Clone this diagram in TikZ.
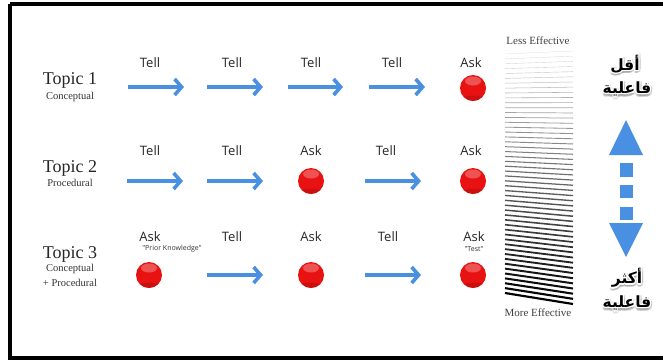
\documentclass[tikz,border=0pt]{standalone}
\usepackage{fontspec}
\setmainfont{Liberation Serif}
\newfontfamily\labfont{Open Sans}
\newfontfamily\arabicfont[Script=Arabic]{DejaVu Sans}
\TeXXeTstate=1
\usetikzlibrary{arrows.meta,shadings,calc}
\definecolor{arrblue}{RGB}{74,144,226}
\definecolor{ballred}{RGB}{232,18,18}
\tikzset{
  topic/.style={font=\fontsize{18}{18}\selectfont, inner sep=0pt, text=black!85},
  sub/.style={font=\fontsize{10.5}{10.5}\selectfont, inner sep=0pt, text=black!80},
  lab/.style={font=\labfont\fontsize{13}{13}\selectfont, inner sep=0pt, text=black!85},
  note/.style={font=\labfont\fontsize{7}{7}\selectfont, inner sep=0pt, text=black!80},
  eff/.style={font=\fontsize{11}{11}\selectfont, inner sep=0pt, text=black!75},
  blarrow/.style={draw=arrblue, line width=3.6pt, -{Straight Barb[length=7pt,width=16pt]}},
  ball/.style={circle, minimum size=26pt, inner sep=0pt, fill=ballred,
    path picture={
      \fill[white, opacity=0.28] ($(path picture bounding box.center)+(0,-7)$) ellipse (8pt and 4.5pt);
      \fill[ballred!60!black, opacity=0.3] ($(path picture bounding box.center)+(0,11.5)$) ellipse (12pt and 4pt);
    }},
  arab/.style={font=\arabicfont\bfseries\fontsize{15.5}{15.5}\selectfont, inner sep=0pt},
  blueshape/.style={fill=arrblue, draw=none}
}
\newcommand{\arabsticker}[3]{%
  \foreach \dx/\dy in {2/2.5,-1/3,2.5/-0.5,0/3.5}{
    \node[arab, text=black!45, opacity=0.35] at ($(#2)+(\dx,\dy)$) {\beginR #3\endR};}
  \foreach \dx/\dy in {1.3/0,-1.3/0,0/1.3,0/-1.3,0.9/0.9,-0.9/0.9,0.9/-0.9,-0.9/-0.9}{
    \node[arab, text=white] at ($(#2)+(\dx,\dy)$) {\beginR #3\endR};}
  \node[arab] (#1) at (#2) {\beginR #3\endR};
}
\begin{document}
\begin{tikzpicture}[x=1pt,y=-1pt]
\useasboundingbox (0,0) rectangle (663,360);
\fill[white] (0,0) rectangle (663,360);
\draw[line width=4pt] (10,4) -- (670,4) (10,4) -- (10,358) -- (670,358);

% topics
\node[topic] (t1) at (70,80) {Topic 1};
\node[sub] (s1) at (70,97) {Conceptual};
\node[topic] (t2) at (70,168) {Topic 2};
\node[sub] (s2) at (70,183) {Procedural};
\node[topic] (t3) at (70,254) {Topic 3};
\node[sub] (s3a) at (70,269) {Conceptual};
\node[sub] (s3b) at (70,283) {+ Procedural};

% row 1
\node[lab] (l11) at (150,63) {Tell};
\node[lab] (l12) at (232,63) {Tell};
\node[lab] (l13) at (311,63) {Tell};
\node[lab] (l14) at (392,63) {Tell};
\node[lab] (l15) at (471,63) {Ask};
\coordinate (a11s) at (128,87); \coordinate (a11e) at (184,87);
\coordinate (a12s) at (207,87); \coordinate (a12e) at (263,87);
\coordinate (a13s) at (288,87); \coordinate (a13e) at (343,87);
\coordinate (a14s) at (369,87); \coordinate (a14e) at (425,87);
\draw[blarrow] (a11s) -- (a11e);
\draw[blarrow] (a12s) -- (a12e);
\draw[blarrow] (a13s) -- (a13e);
\draw[blarrow] (a14s) -- (a14e);
\node[ball] (b15) at (473,88) {};

% row 2
\node[lab] (l21) at (150,151) {Tell};
\node[lab] (l22) at (232,151) {Tell};
\node[lab] (l23) at (311,151) {Ask};
\node[lab] (l24) at (386,151) {Tell};
\node[lab] (l25) at (471,151) {Ask};
\coordinate (a21s) at (127,181); \coordinate (a21e) at (183,181);
\coordinate (a22s) at (207,181); \coordinate (a22e) at (263,181);
\coordinate (a24s) at (365,181); \coordinate (a24e) at (421,181);
\draw[blarrow] (a21s) -- (a21e);
\draw[blarrow] (a22s) -- (a22e);
\node[ball] (b23) at (311,181) {};
\draw[blarrow] (a24s) -- (a24e);
\node[ball] (b25) at (473,181) {};

% row 3
\node[lab] (l31) at (150,237) {Ask};
\node[note] (n31) at (172,249) {"Prior Knowledge"};
\node[lab] (l32) at (232,237) {Tell};
\node[lab] (l33) at (311,237) {Ask};
\node[lab] (l34) at (388,237) {Tell};
\node[lab] (l35) at (474,237) {Ask};
\node[note] (n35) at (474,249) {"Test"};
\node[ball] (b31) at (149,275) {};
\coordinate (a32s) at (207,275); \coordinate (a32e) at (263,275);
\draw[blarrow] (a32s) -- (a32e);
\node[ball] (b33) at (311,275) {};
\coordinate (a34s) at (365,275); \coordinate (a34e) at (421,275);
\draw[blarrow] (a34s) -- (a34e);
\node[ball] (b35) at (473,275) {};

% stripes
\node[eff] (less) at (538,41) {Less Effective};
\node[eff] (more) at (538,313) {More Effective};
\foreach \i in {0,...,49}{
  \pgfmathsetmacro\tt{\i/49}
  \pgfmathsetmacro\yl{54+239*\tt}
  \pgfmathsetmacro\yr{51+253*\tt}
  \pgfmathsetmacro\lw{0.25+1.9*\tt}
  \pgfmathsetmacro\cc{15+85*\tt}
  \draw[line width=\lw pt, draw=black!\cc] (505,\yl) -- (573,\yr);
}

% arabic labels and arrow
\arabsticker{ar1}{625,64}{أقل}
\arabsticker{ar2}{627,89}{فاعلية}
\arabsticker{ar3}{627,278}{أكثر}
\arabsticker{ar4}{627,303}{فاعلية}
\fill[blueshape] (626,120) -- (643,155) -- (609,155) -- cycle;
\fill[blueshape] (620,163) rectangle (633,177);
\fill[blueshape] (620,185) rectangle (633,198);
\fill[blueshape] (620,207) rectangle (633,220);
\fill[blueshape] (609,223) -- (643,223) -- (626,257) -- cycle;
\end{tikzpicture}
\end{document}
